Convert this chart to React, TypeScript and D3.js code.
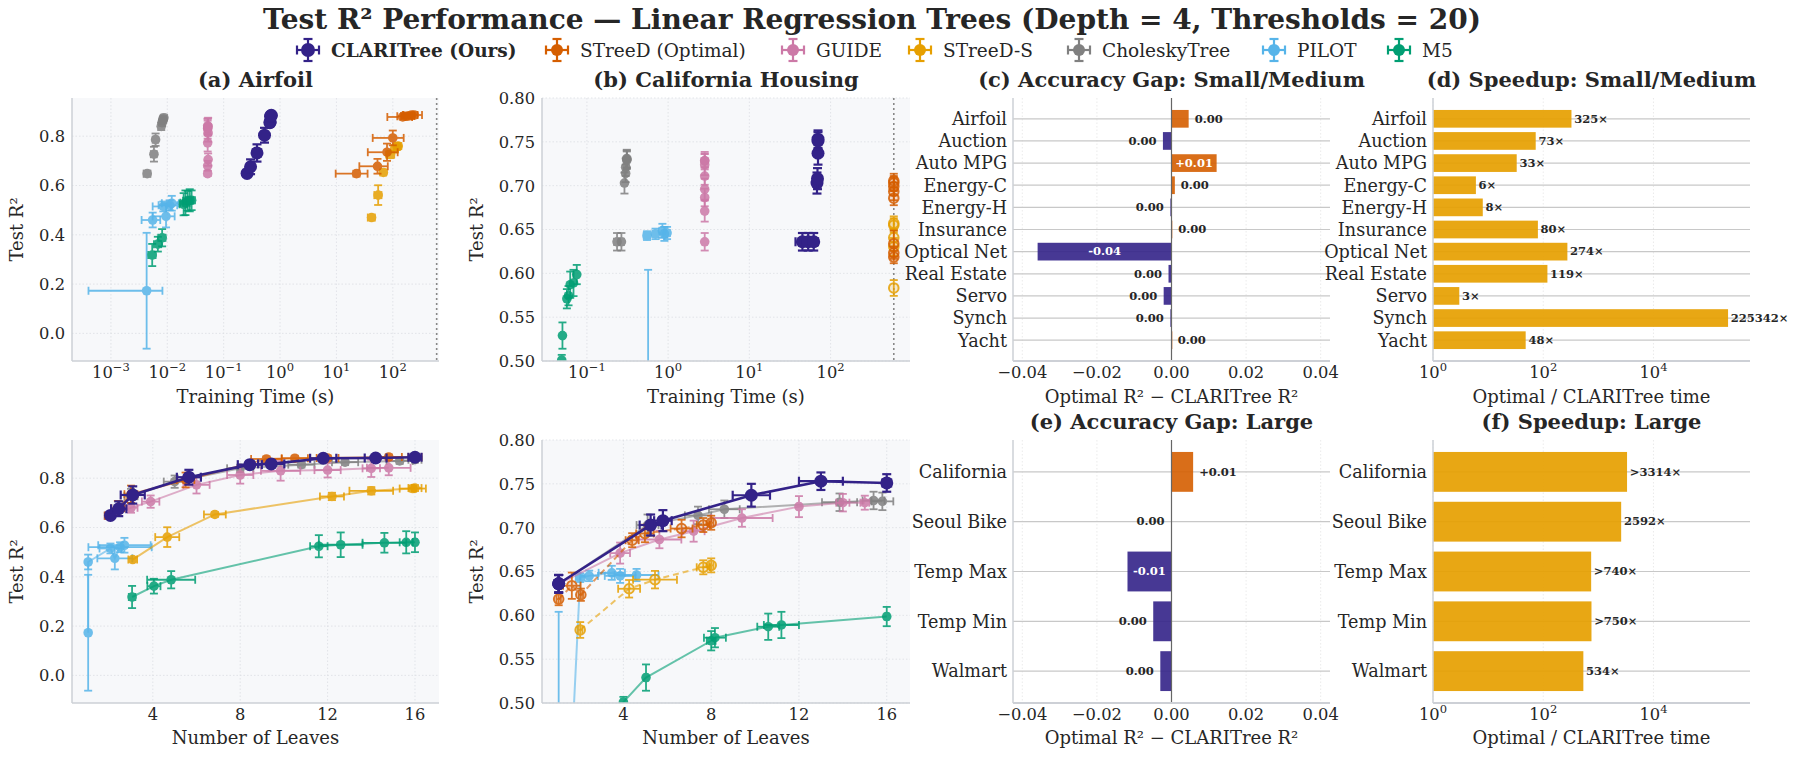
import * as d3 from "d3";

const FONT = "'DejaVu Serif', serif";
const INK = "#262626";

const methodNames = ["CLARITree (Ours)", "STreeD (Optimal)", "GUIDE", "STreeD-S", "CholeskyTree", "PILOT", "M5"];
const methodColors = ["#332288", "#D55E00", "#CC79A7", "#E69F00", "#808080", "#56B4E9", "#009E73"];
const drawOrder = [5, 6, 4, 2, 3, 1, 0];

// rows: [leaves, leavesErr, time (s), timeErr, test R2, R2 err]
const airfoilClari = [
  [2.06, 0.15, 0.26, 0.02, 0.649, 0.012],
  [2.44, 0.35, 0.3, 0.03, 0.676, 0.03],
  [3.08, 0.55, 0.39, 0.06, 0.732, 0.035],
  [5.65, 0.55, 0.53, 0.06, 0.804, 0.03],
  [8.44, 0.55, 0.66, 0.05, 0.855, 0.012],
  [9.42, 0.6, 0.67, 0.05, 0.858, 0.012],
  [11.8, 0.6, 0.68, 0.05, 0.881, 0.01],
  [14.2, 0.5, 0.69, 0.05, 0.882, 0.01],
  [16.0, 0.3, 0.7, 0.05, 0.885, 0.01],
];
const airfoilStreed = [
  [2.0, 0.2, 22.7, 13, 0.648, 0.012],
  [2.4, 0.3, 53.5, 28, 0.678, 0.03],
  [3.0, 0.3, 79, 43, 0.735, 0.035],
  [5.5, 0.4, 100, 56, 0.793, 0.03],
  [9.2, 0.7, 150, 70, 0.878, 0.01],
  [10.5, 0.6, 170, 50, 0.881, 0.01],
  [12.0, 0.5, 190, 50, 0.882, 0.01],
  [14.8, 0.6, 215, 60, 0.886, 0.01],
  [16.0, 0.3, 240, 90, 0.886, 0.01],
];
const airfoilGuide = [
  [2.0, 0.2, 0.052, 0.003, 0.648, 0.01],
  [3.0, 0.3, 0.052, 0.003, 0.68, 0.02],
  [3.9, 0.4, 0.053, 0.003, 0.705, 0.025],
  [6.0, 0.6, 0.052, 0.003, 0.773, 0.035],
  [8.0, 0.6, 0.053, 0.003, 0.813, 0.035],
  [9.85, 0.9, 0.052, 0.003, 0.83, 0.04],
  [12.0, 0.6, 0.052, 0.003, 0.833, 0.03],
  [14.0, 0.4, 0.053, 0.003, 0.84, 0.035],
  [14.8, 1.0, 0.052, 0.003, 0.842, 0.03],
];
const airfoilStreedS = [
  [3.08, 0.2, 42, 6, 0.47, 0.005],
  [4.66, 0.55, 55, 8, 0.561, 0.04],
  [6.84, 0.5, 68, 8, 0.653, 0.01],
  [12.2, 0.55, 91, 15, 0.726, 0.015],
  [14.0, 1.0, 109, 15, 0.749, 0.015],
  [15.9, 0.6, 120, 15, 0.758, 0.012],
  [16.0, 0.3, 125, 15, 0.76, 0.012],
];
const airfoilChol = [
  [2.0, 0.2, 0.0044, 0.0006, 0.648, 0.012],
  [3.0, 0.3, 0.0058, 0.0007, 0.727, 0.03],
  [5.0, 0.5, 0.0062, 0.0007, 0.786, 0.025],
  [8.0, 0.6, 0.0078, 0.0008, 0.84, 0.015],
  [10.8, 0.6, 0.0081, 0.0008, 0.855, 0.012],
  [12.8, 0.6, 0.0083, 0.0008, 0.865, 0.012],
  [15.3, 0.6, 0.0085, 0.0008, 0.87, 0.012],
  [16.0, 0.3, 0.0087, 0.0008, 0.875, 0.012],
];
const airfoilPilot = [
  [1.04, 0.05, 0.0043, 0.0039, 0.173, 0.235],
  [1.04, 0.05, 0.0055, 0.002, 0.46, 0.03],
  [2.06, 0.5, 0.0085, 0.003, 0.515, 0.02],
  [2.26, 0.8, 0.0095, 0.004, 0.475, 0.045],
  [2.5, 1.45, 0.011, 0.004, 0.52, 0.02],
  [2.7, 1.2, 0.012, 0.004, 0.528, 0.03],
];
const airfoilM5 = [
  [3.05, 0.15, 0.0054, 0.0008, 0.318, 0.045],
  [4.05, 0.3, 0.0068, 0.001, 0.362, 0.03],
  [4.84, 1.1, 0.0081, 0.0012, 0.388, 0.035],
  [11.6, 0.4, 0.0195, 0.003, 0.524, 0.045],
  [12.6, 1.0, 0.021, 0.004, 0.53, 0.05],
  [14.6, 1.0, 0.023, 0.004, 0.538, 0.04],
  [15.6, 0.3, 0.025, 0.004, 0.54, 0.045],
  [16.0, 0.1, 0.027, 0.004, 0.54, 0.04],
];

const calClari = [
  [1.05, 0.1, 45, 8, 0.636, 0.01],
  [1.05, 0.1, 53, 8, 0.636, 0.01],
  [1.05, 0.1, 62, 8, 0.636, 0.01],
  [5.24, 0.5, 68, 6, 0.703, 0.012],
  [5.8, 0.4, 69, 6, 0.708, 0.012],
  [9.83, 0.85, 70, 6, 0.737, 0.013],
  [13.0, 1.0, 70, 6, 0.753, 0.01],
  [16.0, 0.2, 70, 6, 0.751, 0.01],
];
const calStreed = [
  [1.05, 0.1, 600, 0, 0.6185, 0.007],
  [1.65, 0.4, 600, 0, 0.6338, 0.015],
  [2.06, 0.1, 600, 0, 0.6235, 0.007],
  [4.4, 0.3, 600, 0, 0.6857, 0.008],
  [4.98, 0.4, 600, 0, 0.6934, 0.01],
  [6.65, 0.5, 600, 0, 0.699, 0.01],
  [7.64, 0.3, 600, 0, 0.703, 0.008],
  [8.0, 0.1, 600, 0, 0.7056, 0.008],
];
const calGuide = [
  [1.05, 0.1, 2.82, 0.05, 0.636, 0.01],
  [3.85, 0.45, 2.82, 0.05, 0.671, 0.012],
  [5.64, 1.0, 2.82, 0.05, 0.6865, 0.01],
  [7.2, 0.5, 2.82, 0.05, 0.696, 0.012],
  [9.4, 1.4, 2.82, 0.05, 0.711, 0.01],
  [12.0, 0.1, 2.82, 0.05, 0.724, 0.012],
  [14.0, 0.3, 2.82, 0.05, 0.7285, 0.01],
  [15.0, 0.2, 2.82, 0.05, 0.7285, 0.008],
];
const calStreedS = [
  [2.03, 0.1, 600, 0, 0.5833, 0.009],
  [4.26, 0.5, 600, 0, 0.6303, 0.01],
  [5.44, 1.0, 600, 0, 0.6407, 0.01],
  [7.64, 0.3, 600, 0, 0.6548, 0.008],
  [8.0, 0.1, 600, 0, 0.657, 0.008],
];
const calChol = [
  [1.05, 0.1, 0.235, 0.02, 0.636, 0.01],
  [1.05, 0.1, 0.266, 0.02, 0.636, 0.01],
  [5.1, 0.5, 0.29, 0.01, 0.703, 0.012],
  [7.4, 0.6, 0.3, 0.01, 0.714, 0.01],
  [8.6, 0.7, 0.3, 0.01, 0.721, 0.01],
  [13.85, 0.8, 0.31, 0.01, 0.729, 0.01],
  [15.4, 0.5, 0.31, 0.01, 0.731, 0.01],
  [15.8, 0.5, 0.31, 0.01, 0.73, 0.01],
];
const calPilot = [
  [1.05, 0.05, 0.567, 0.01, 0.14, 0.464],
  [2.03, 0.2, 0.55, 0.05, 0.643, 0.005],
  [2.44, 0.4, 0.7, 0.06, 0.645, 0.006],
  [3.47, 0.6, 0.85, 0.07, 0.6485, 0.008],
  [3.85, 0.7, 0.9, 0.07, 0.645, 0.008],
  [4.6, 1.0, 0.97, 0.08, 0.646, 0.007],
];
const calM5 = [
  [3.0, 0.1, 0.045, 0.001, 0.46, 0.01],
  [4.0, 0.1, 0.049, 0.001, 0.501, 0.006],
  [5.03, 0.1, 0.05, 0.002, 0.529, 0.015],
  [8.0, 0.2, 0.0567, 0.002, 0.571, 0.011],
  [8.17, 0.5, 0.0594, 0.002, 0.5745, 0.011],
  [10.6, 0.5, 0.0623, 0.002, 0.587, 0.015],
  [11.2, 0.8, 0.0684, 0.003, 0.589, 0.015],
  [16.0, 0.1, 0.075, 0.004, 0.5986, 0.011],
];

const airfoilSeries = [airfoilClari, airfoilStreed, airfoilGuide, airfoilStreedS, airfoilChol, airfoilPilot, airfoilM5];
const calSeries = [calClari, calStreed, calGuide, calStreedS, calChol, calPilot, calM5];
const airfoilTimedOut = [false, false, false, false, false, false, false];
const calTimedOut = [false, true, false, true, false, false, false];
const timeLimit = 600;

const gapCats = ["Airfoil", "Auction", "Auto MPG", "Energy-C", "Energy-H", "Insurance", "Optical Net", "Real Estate", "Servo", "Synch", "Yacht"];
const gapVals = [0.0046, -0.0023, 0.0121, 0.0009, -0.0003, 0.0002, -0.0359, -0.0008, -0.0021, -0.0003, 0.0001];
const speedVals = [325, 73, 33, 6, 8, 80, 274, 119, 3, 225342, 48];
const largeCats = ["California", "Seoul Bike", "Temp Max", "Temp Min", "Walmart"];
const largeGapVals = [0.0058, -0.0001, -0.0118, -0.0049, -0.003];
const largeSpeedVals = [3314, 2592, 740, 750, 534];
const largeLowerBound = [true, false, true, true, false];

const airfoilTimeTicks = [1e-3, 1e-2, 1e-1, 1, 10, 100];
const calTimeTicks = [0.1, 1, 10, 100];
const leafTicks = [4, 8, 12, 16];
const airfoilR2Ticks = [0, 0.2, 0.4, 0.6, 0.8];
const calR2Ticks = [0.5, 0.55, 0.6, 0.65, 0.7, 0.75, 0.8];
const gapTicks = [-0.04, -0.02, 0, 0.02, 0.04];
const speedTicks = [1, 100, 10000];

const SPINE = "#cdd0d6";
const GRID = "#dcdee3";
const TICK_FS = 16.3;

function LogLabel({ v, x, y }: { v: number; x: number; y: number }) {
  const e = Math.round(Math.log10(v));
  return (
    <text x={x} y={y} textAnchor="middle" fontSize={TICK_FS} fill={INK}>
      10<tspan dy={-7} fontSize={11.5}>{e < 0 ? "\u2212" + -e : String(e)}</tspan>
    </text>
  );
}

interface ScatterProps {
  x0: number; y0: number; w: number; h: number;
  series: number[][][]; timedOut: boolean[]; mode: "time" | "leaves";
  xDomain: [number, number]; yDomain: [number, number];
  xTicks: number[]; yTicks: number[]; yDigits: number; id: string;
}

function ScatterPanel(p: ScatterProps) {
  const isTime = p.mode === "time";
  const xs: any = isTime
    ? d3.scaleLog().domain(p.xDomain).range([0, p.w])
    : d3.scaleLinear().domain(p.xDomain).range([0, p.w]);
  const ys = d3.scaleLinear().domain(p.yDomain).range([p.h, 0]);
  const xi = isTime ? 2 : 0;

  return (
    <g transform={`translate(${p.x0},${p.y0})`}>
      <defs>
        <clipPath id={p.id}>
          <rect width={p.w} height={p.h} />
        </clipPath>
      </defs>
      <rect width={p.w} height={p.h} fill="#f7f8fa" />
      {p.xTicks.map((t) => (
        <line key={"gx" + t} x1={xs(t)} x2={xs(t)} y1={0} y2={p.h} stroke={GRID} strokeWidth={0.8} strokeDasharray="1.5,2" />
      ))}
      {p.yTicks.map((t) => (
        <line key={"gy" + t} x1={0} x2={p.w} y1={ys(t)} y2={ys(t)} stroke={GRID} strokeWidth={0.8} strokeDasharray="1.5,2" />
      ))}
      <g clipPath={`url(#${p.id})`}>
        {isTime && (
          <line x1={xs(timeLimit)} x2={xs(timeLimit)} y1={0} y2={p.h} stroke="#888" strokeWidth={1.6} strokeDasharray="2,3" />
        )}
        {drawOrder.map((k) => {
          const rows = p.series[k];
          const color = methodColors[k];
          const main = k === 0;
          const hollow = p.timedOut[k];
          const r = main ? 6.5 : 4.8;
          const op = main ? 1 : 0.85;
          const cap = main ? 4.5 : 4;
          const ew = main ? 2.2 : 1.8;
          const pts = rows.map((row) => ({ x: row[xi], ex: row[xi + 1], y: row[4], ey: row[5] }));
          const sorted = [...pts].sort((a, b) => a.x - b.x);
          const line = d3
            .line<any>()
            .x((d) => xs(d.x))
            .y((d) => ys(d.y));
          return (
            <g key={k}>
              {!isTime && (
                <path
                  d={line(sorted) || ""}
                  fill="none"
                  stroke={color}
                  strokeWidth={main ? 2.6 : 2}
                  strokeOpacity={main ? 1 : 0.6}
                  strokeDasharray={hollow ? "6,4" : undefined}
                />
              )}
              {pts.map((d, i) => {
                const cx = xs(d.x);
                const cy = ys(d.y);
                const lo = isTime ? Math.max(d.x - d.ex, p.xDomain[0]) : d.x - d.ex;
                const xl = xs(lo);
                const xr = xs(d.x + d.ex);
                const yt = ys(d.y + d.ey);
                const yb = ys(d.y - d.ey);
                return (
                  <g key={i} opacity={op} stroke={color} strokeWidth={ew}>
                    {d.ey > 0 && (
                      <g>
                        <line x1={cx} x2={cx} y1={yt} y2={yb} />
                        <line x1={cx - cap} x2={cx + cap} y1={yt} y2={yt} />
                        <line x1={cx - cap} x2={cx + cap} y1={yb} y2={yb} />
                      </g>
                    )}
                    {d.ex > 0 && (
                      <g>
                        <line x1={xl} x2={xr} y1={cy} y2={cy} />
                        <line x1={xl} x2={xl} y1={cy - cap} y2={cy + cap} />
                        <line x1={xr} x2={xr} y1={cy - cap} y2={cy + cap} />
                      </g>
                    )}
                    {hollow ? (
                      <circle cx={cx} cy={cy} r={r} fill={color} fillOpacity={0.2} stroke={color} strokeWidth={2} />
                    ) : (
                      <circle cx={cx} cy={cy} r={r} fill={color} stroke="none" />
                    )}
                  </g>
                );
              })}
            </g>
          );
        })}
      </g>
      <line x1={0} x2={0} y1={0} y2={p.h} stroke={SPINE} strokeWidth={1.5} />
      <line x1={0} x2={p.w} y1={p.h} y2={p.h} stroke={SPINE} strokeWidth={1.5} />
      {p.yTicks.map((t) => (
        <text key={"ty" + t} x={-7} y={ys(t)} dy="0.36em" textAnchor="end" fontSize={TICK_FS} fill={INK}>
          {t.toFixed(p.yDigits)}
        </text>
      ))}
      {p.xTicks.map((t) =>
        isTime ? (
          <LogLabel key={"tx" + t} v={t} x={xs(t)} y={p.h + 17} />
        ) : (
          <text key={"tx" + t} x={xs(t)} y={p.h + 17} textAnchor="middle" fontSize={TICK_FS} fill={INK}>
            {t}
          </text>
        )
      )}
    </g>
  );
}

function gapLabel(v: number) {
  if (Math.abs(v) < 0.005) return "0.00";
  return (v > 0 ? "+" : "") + v.toFixed(2);
}

interface BarProps {
  x0: number; y0: number; w: number; h: number;
  cats: string[]; vals: number[]; kind: "gap" | "speed"; lower?: boolean[];
}

const speedMax = d3.max([...speedVals, ...largeSpeedVals]) as number;

function BarPanel(p: BarProps) {
  const n = p.cats.length;
  const m = 0.4 + 0.05 * (n - 0.2);
  const yi = d3.scaleLinear().domain([-m, n - 1 + m]).range([0, p.h]);
  const bh = yi(0.4) - yi(-0.4);
  const isGap = p.kind === "gap";
  const xs: any = isGap
    ? d3.scaleLinear().domain([-0.0425, 0.0425]).range([0, p.w])
    : d3.scaleLog().domain([1, speedMax * 2.5]).range([0, p.w]);
  const ticks = isGap ? gapTicks : speedTicks;
  return (
    <g transform={`translate(${p.x0},${p.y0})`}>
      {ticks.map((t) => (
        <line key={"g" + t} x1={xs(t)} x2={xs(t)} y1={0} y2={p.h} stroke="#e6e6e6" strokeWidth={0.8} strokeDasharray="1.5,2" />
      ))}
      {p.cats.map((c, i) => (
        <line key={"h" + c} x1={0} x2={p.w} y1={yi(i)} y2={yi(i)} stroke="#c8c8c8" strokeWidth={1.2} />
      ))}
      {p.vals.map((v, i) => {
        const cy = yi(i);
        if (isGap) {
          const x1 = xs(Math.min(v, 0));
          const x2 = xs(Math.max(v, 0));
          const inside = Math.abs(v) >= 0.01;
          const lbl = gapLabel(v);
          const tx = inside ? (x1 + x2) / 2 : v >= 0 ? x2 + 6 : x1 - 6.5;
          return (
            <g key={i}>
              <rect x={x1} y={cy - bh / 2} width={Math.max(x2 - x1, 0.8)} height={bh} fill={v >= 0 ? "#D55E00" : "#332288"} opacity={0.9} />
              <text
                x={tx}
                y={cy}
                dy="0.33em"
                textAnchor={inside ? "middle" : v >= 0 ? "start" : "end"}
                fontSize={11.5}
                fontWeight="bold"
                fill={inside ? "#ffffff" : INK}
              >
                {lbl}
              </text>
            </g>
          );
        }
        const xe = xs(v);
        const lbl = (p.lower && p.lower[i] ? ">" : "") + v + "\u00d7";
        return (
          <g key={i}>
            <rect x={0} y={cy - bh / 2} width={xe} height={bh} fill="#E69F00" opacity={0.92} />
            <text x={xs(v * 1.12)} y={cy} dy="0.33em" fontSize={11.5} fontWeight="bold" fill={INK}>
              {lbl}
            </text>
          </g>
        );
      })}
      {isGap && <line x1={xs(0)} x2={xs(0)} y1={0} y2={p.h} stroke="#666" strokeWidth={1.2} />}
      <line x1={0} x2={0} y1={0} y2={p.h} stroke={SPINE} strokeWidth={1.5} />
      <line x1={0} x2={p.w} y1={p.h} y2={p.h} stroke={SPINE} strokeWidth={1.8} />
      {p.cats.map((c, i) => (
        <text key={"c" + c} x={-6} y={yi(i)} dy="0.36em" textAnchor="end" fontSize={17.6} fill={INK}>
          {c}
        </text>
      ))}
      {ticks.map((t) =>
        isGap ? (
          <text key={"t" + t} x={xs(t)} y={p.h + 17} textAnchor="middle" fontSize={TICK_FS} fill={INK}>
            {t === 0 ? "0.00" : (t < 0 ? "\u2212" : "") + Math.abs(t).toFixed(2)}
          </text>
        ) : (
          <LogLabel key={"t" + t} v={t} x={xs(t)} y={p.h + 17} />
        )
      )}
    </g>
  );
}

const legendX = [308, 557, 793, 920, 1079, 1274, 1399];

export default function App() {
  const colA = 72;
  const colB = 542;
  const colC = 1013;
  const colD = 1433;
  const aw = 367;
  const bw = 368;
  const cw = 317;
  const row1 = 98;
  const row2 = 440;
  const ph = 263;
  const titleStyle = { fontSize: 21, fontWeight: "bold" as const, fill: INK, textAnchor: "middle" as const };
  const labelStyle = { fontSize: 18, fill: INK, textAnchor: "middle" as const };
  return (
    <svg width={1800} height={761} style={{ position: "absolute", left: 0, top: 0, background: "#fff", fontFamily: FONT }}>
      <text x={872} y={29} textAnchor="middle" fontSize={28} fontWeight="bold" fill={INK}>
        Test R² Performance — Linear Regression Trees (Depth = 4, Thresholds = 20)
      </text>
      {methodNames.map((name, k) => {
        const c = methodColors[k];
        const main = k === 0;
        return (
          <g key={name} transform={`translate(${legendX[k]},50)`} stroke={c} strokeWidth={2.2}>
            <line x1={-11} x2={11} y1={0} y2={0} />
            <line x1={-11} x2={-11} y1={-4.5} y2={4.5} />
            <line x1={11} x2={11} y1={-4.5} y2={4.5} />
            <line x1={0} x2={0} y1={-11} y2={11} />
            <line x1={-4.5} x2={4.5} y1={-11} y2={-11} />
            <line x1={-4.5} x2={4.5} y1={11} y2={11} />
            <circle r={main ? 7 : 6} fill={c} stroke="none" />
            <text x={23} y={0} dy="0.36em" fontSize={18.5} fontWeight={main ? "bold" : "normal"} fill={INK} stroke="none">
              {name}
            </text>
          </g>
        );
      })}

      <ScatterPanel x0={colA} y0={row1} w={aw} h={ph} series={airfoilSeries} timedOut={airfoilTimedOut} mode="time"
        xDomain={[0.000204, 660]} yDomain={[-0.112, 0.955]} xTicks={airfoilTimeTicks} yTicks={airfoilR2Ticks} yDigits={1} id="ca1" />
      <ScatterPanel x0={colB} y0={row1} w={bw} h={ph} series={calSeries} timedOut={calTimedOut} mode="time"
        xDomain={[0.028, 950]} yDomain={[0.5, 0.8]} xTicks={calTimeTicks} yTicks={calR2Ticks} yDigits={2} id="cb1" />
      <ScatterPanel x0={colA} y0={row2} w={aw} h={ph} series={airfoilSeries} timedOut={airfoilTimedOut} mode="leaves"
        xDomain={[0.3, 17.1]} yDomain={[-0.112, 0.955]} xTicks={leafTicks} yTicks={airfoilR2Ticks} yDigits={1} id="ca2" />
      <ScatterPanel x0={colB} y0={row2} w={bw} h={ph} series={calSeries} timedOut={calTimedOut} mode="leaves"
        xDomain={[0.29, 17.06]} yDomain={[0.5, 0.8]} xTicks={leafTicks} yTicks={calR2Ticks} yDigits={2} id="cb2" />

      <BarPanel x0={colC} y0={row1} w={cw} h={ph} cats={gapCats} vals={gapVals} kind="gap" />
      <BarPanel x0={colD} y0={row1} w={cw} h={ph} cats={gapCats} vals={speedVals} kind="speed" />
      <BarPanel x0={colC} y0={row2} w={cw} h={ph} cats={largeCats} vals={largeGapVals} kind="gap" />
      <BarPanel x0={colD} y0={row2} w={cw} h={ph} cats={largeCats} vals={largeSpeedVals} kind="speed" lower={largeLowerBound} />

      <text x={colA + aw / 2} y={87} {...titleStyle}>(a) Airfoil</text>
      <text x={colB + bw / 2} y={87} {...titleStyle}>(b) California Housing</text>
      <text x={colC + cw / 2} y={87} {...titleStyle}>(c) Accuracy Gap: Small/Medium</text>
      <text x={colD + cw / 2} y={87} {...titleStyle}>(d) Speedup: Small/Medium</text>
      <text x={colC + cw / 2} y={429} {...titleStyle}>(e) Accuracy Gap: Large</text>
      <text x={colD + cw / 2} y={429} {...titleStyle}>(f) Speedup: Large</text>

      <text x={colA + aw / 2} y={403} {...labelStyle}>Training Time (s)</text>
      <text x={colB + bw / 2} y={403} {...labelStyle}>Training Time (s)</text>
      <text x={colC + cw / 2} y={403} {...labelStyle}>Optimal R² − CLARITree R²</text>
      <text x={colD + cw / 2} y={403} {...labelStyle}>Optimal / CLARITree time</text>
      <text x={colA + aw / 2} y={744} {...labelStyle}>Number of Leaves</text>
      <text x={colB + bw / 2} y={744} {...labelStyle}>Number of Leaves</text>
      <text x={colC + cw / 2} y={744} {...labelStyle}>Optimal R² − CLARITree R²</text>
      <text x={colD + cw / 2} y={744} {...labelStyle}>Optimal / CLARITree time</text>

      {[
        [17, row1],
        [477, row1],
        [17, row2],
        [477, row2],
      ].map(([x, y], i) => (
        <text key={i} transform={`translate(${x},${y + ph / 2}) rotate(-90)`} dy="0.36em" {...labelStyle}>
          Test R²
        </text>
      ))}
    </svg>
  );
}
